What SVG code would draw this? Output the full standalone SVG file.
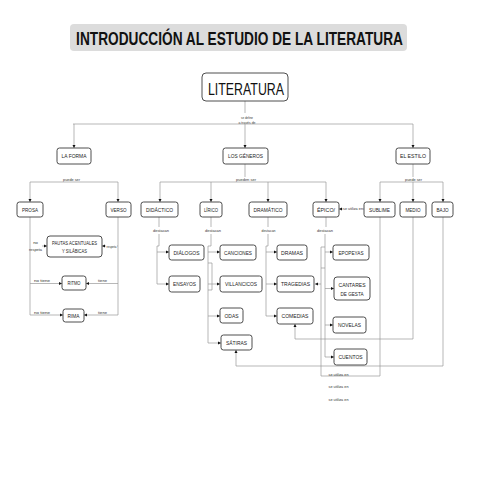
<svg xmlns="http://www.w3.org/2000/svg" width="480" height="480" viewBox="0 0 480 480">
<style>
  .bx{fill:#fff;stroke:#3a3a3a;stroke-width:0.9}
  .t{font-family:'Liberation Sans',Arial,sans-serif;font-size:6px;fill:#222;text-anchor:middle}
  .lp{font-family:'Liberation Sans',Arial,sans-serif;font-size:4.2px;fill:#333;text-anchor:middle}
  .ln{fill:none;stroke:#999;stroke-width:0.7}
</style>
<defs>
  <marker id="ar" viewBox="0 0 4 4" refX="4" refY="2" markerWidth="3.2" markerHeight="3.2" orient="auto" markerUnits="userSpaceOnUse">
    <path d="M0,0 L4,2 L0,4 z" fill="#111"/>
  </marker>
</defs>
<rect width="480" height="480" fill="#fff"/>

<g id="title">
  <rect x="70" y="24" width="337" height="27" rx="4" fill="#dcdcdc"/>
  <text transform="translate(239.5,45) scale(0.78,1)" x="0" y="0" font-family="'Liberation Sans',Arial,sans-serif" font-weight="bold" font-size="17.5" fill="#111" text-anchor="middle" textLength="419" lengthAdjust="spacingAndGlyphs">INTRODUCCIÓN AL ESTUDIO DE LA LITERATURA</text>
</g>

<g id="connectors">
  <!-- Literatura -->
  <path class="ln" d="M245 101 V113"/>
  <text class="lp" x="247" y="118.5" textLength="12" lengthAdjust="spacingAndGlyphs">se define</text>
  <text class="lp" x="247" y="123.5" textLength="17" lengthAdjust="spacingAndGlyphs">a través de</text>
  <path class="ln" d="M73 124 H413"/>
  <path class="ln" d="M74 124 V148" marker-end="url(#ar)"/>
  <path class="ln" d="M245 124 V148" marker-end="url(#ar)"/>
  <path class="ln" d="M413 124 V148" marker-end="url(#ar)"/>

  <!-- La forma -->
  <text class="lp" x="71.5" y="180.5" textLength="17" lengthAdjust="spacingAndGlyphs">puede ser</text>
  <path class="ln" d="M30 182 H118"/>
  <path class="ln" d="M30 182 V202" marker-end="url(#ar)"/>
  <path class="ln" d="M118 182 V202" marker-end="url(#ar)"/>

  <!-- Prosa / Verso -->
  <path class="ln" d="M30 217 V315 H63" marker-end="url(#ar)"/>
  <path class="ln" d="M42 246 H47" marker-end="url(#ar)"/>
  <text class="lp" x="35.5" y="244">no</text>
  <text class="lp" x="35.5" y="250.5" textLength="13" lengthAdjust="spacingAndGlyphs">respeta</text>
  <path class="ln" d="M30 283.5 H62" marker-end="url(#ar)"/>
  <text class="lp" x="42" y="282" textLength="16" lengthAdjust="spacingAndGlyphs">no tiene</text>
  <text class="lp" x="42" y="314" textLength="16" lengthAdjust="spacingAndGlyphs">no tiene</text>

  <path class="ln" d="M118 217 V315 H84" marker-end="url(#ar)"/>
  <path class="ln" d="M106 246 H102" marker-end="url(#ar)"/>
  <path class="ln" d="M117 246 H118"/>
  <text class="lp" x="111.5" y="247.5" textLength="10" lengthAdjust="spacingAndGlyphs">respeta</text>
  <path class="ln" d="M118 283.5 H86" marker-end="url(#ar)"/>
  <text class="lp" x="102.5" y="282" textLength="9" lengthAdjust="spacingAndGlyphs">tiene</text>
  <text class="lp" x="102.5" y="314" textLength="9" lengthAdjust="spacingAndGlyphs">tiene</text>

  <!-- Los géneros -->
  <path class="ln" d="M245 164 V177"/>
  <text class="lp" x="246" y="181" textLength="20" lengthAdjust="spacingAndGlyphs">pueden ser</text>
  <path class="ln" d="M160 182 H326"/>
  <path class="ln" d="M160 182 V202" marker-end="url(#ar)"/>
  <path class="ln" d="M211 182 V202" marker-end="url(#ar)"/>
  <path class="ln" d="M268 182 V202" marker-end="url(#ar)"/>
  <path class="ln" d="M326 182 V202" marker-end="url(#ar)"/>

  <!-- El estilo -->
  <path class="ln" d="M413 164 V177"/>
  <text class="lp" x="413.5" y="181" textLength="17" lengthAdjust="spacingAndGlyphs">puede ser</text>
  <path class="ln" d="M380 182 H443"/>
  <path class="ln" d="M380 182 V202" marker-end="url(#ar)"/>
  <path class="ln" d="M413 182 V202" marker-end="url(#ar)"/>
  <path class="ln" d="M443 182 V202" marker-end="url(#ar)"/>

  <!-- Didáctico -->
  <path class="ln" d="M159 217 V227"/>
  <text class="lp" x="161" y="232" textLength="16" lengthAdjust="spacingAndGlyphs">destacan</text>
  <path class="ln" d="M159 234 V246 H157 V284 H169" marker-end="url(#ar)"/>
  <path class="ln" d="M157 252 H169" marker-end="url(#ar)"/>

  <!-- Lírico -->
  <path class="ln" d="M211 217 V227"/>
  <text class="lp" x="213" y="232" textLength="16" lengthAdjust="spacingAndGlyphs">destacan</text>
  <path class="ln" d="M211 234 V246 H208 V343 H221" marker-end="url(#ar)"/>
  <path class="ln" d="M208 252 H220" marker-end="url(#ar)"/>
  <path class="ln" d="M208 284 H220" marker-end="url(#ar)"/>
  <path class="ln" d="M208 316 H220" marker-end="url(#ar)"/>
  <path class="ln" d="M208 263 H212 V290 H208"/>

  <!-- Dramático -->
  <path class="ln" d="M268 217 V227"/>
  <text class="lp" x="268.5" y="232" textLength="14" lengthAdjust="spacingAndGlyphs">destacan</text>
  <path class="ln" d="M268 234 V246 H266 V316 H277" marker-end="url(#ar)"/>
  <path class="ln" d="M266 252 H277" marker-end="url(#ar)"/>
  <path class="ln" d="M266 284 H277" marker-end="url(#ar)"/>

  <!-- Épico -->
  <path class="ln" d="M326 217 V227"/>
  <text class="lp" x="325" y="232" textLength="16" lengthAdjust="spacingAndGlyphs">destacan</text>
  <path class="ln" d="M325 234 V357 H334" marker-end="url(#ar)"/>
  <path class="ln" d="M325 252 H333" marker-end="url(#ar)"/>
  <path class="ln" d="M325 288.5 H334" marker-end="url(#ar)"/>
  <path class="ln" d="M325 325 H333" marker-end="url(#ar)"/>

  <!-- Sublime -->
  <path class="ln" d="M343 209 H339" marker-end="url(#ar)"/>
  <path class="ln" d="M363 209 H364"/>
  <text class="lp" x="353" y="210" textLength="20" lengthAdjust="spacingAndGlyphs">se utiliza en</text>
  <path class="ln" d="M380 217 V376 H321 V247 H325"/>
  <path class="ln" d="M321 268 H325"/>
  <path class="ln" d="M321 284 H315" marker-end="url(#ar)"/>
  <text class="lp" x="338.5" y="376" textLength="20" lengthAdjust="spacingAndGlyphs">se utiliza en</text>

  <!-- Medio -->
  <path class="ln" d="M413 217 V339 H295 V324" marker-end="url(#ar)"/>
  <text class="lp" x="338.5" y="388" textLength="20" lengthAdjust="spacingAndGlyphs">se utiliza en</text>

  <!-- Bajo -->
  <path class="ln" d="M443 217 V366 H236 V350" marker-end="url(#ar)"/>
  <text class="lp" x="338.5" y="401" textLength="20" lengthAdjust="spacingAndGlyphs">se utiliza en</text>
</g>

<g id="literatura">
  <rect class="bx" x="202" y="73" width="86" height="28" rx="4"/>
  <text x="246" y="95" font-family="'Liberation Sans',Arial,sans-serif" font-size="17" fill="#111" text-anchor="middle" textLength="76" lengthAdjust="spacingAndGlyphs">LITERATURA</text>
</g>

<g id="la-forma"><rect class="bx" x="57" y="148" width="34" height="16" rx="2.5"/><text class="t" x="74" y="158.3" textLength="25" lengthAdjust="spacingAndGlyphs">LA FORMA</text></g>
<g id="los-generos"><rect class="bx" x="223" y="148" width="45" height="16" rx="2.5"/><text class="t" x="245.5" y="158.3" textLength="35" lengthAdjust="spacingAndGlyphs">LOS GÉNEROS</text></g>
<g id="el-estilo"><rect class="bx" x="396" y="148" width="34" height="16" rx="2.5"/><text class="t" x="413" y="158.3" textLength="26" lengthAdjust="spacingAndGlyphs">EL ESTILO</text></g>

<g id="prosa"><rect class="bx" x="17" y="202" width="26" height="15" rx="2.5"/><text class="t" x="30" y="211.8" textLength="16" lengthAdjust="spacingAndGlyphs">PROSA</text></g>
<g id="verso"><rect class="bx" x="106" y="202" width="25" height="15" rx="2.5"/><text class="t" x="118.5" y="211.8" textLength="16" lengthAdjust="spacingAndGlyphs">VERSO</text></g>

<g id="pautas"><rect class="bx" x="47" y="236" width="55" height="21" rx="3"/><text class="t" x="74.5" y="245" font-size="5.2" textLength="45" lengthAdjust="spacingAndGlyphs">PAUTAS ACENTUALES</text><text class="t" x="74.5" y="252.5" font-size="5.4" textLength="25" lengthAdjust="spacingAndGlyphs">Y SILÁBICAS</text></g>
<g id="ritmo"><rect class="bx" x="62" y="276" width="24" height="14" rx="2.5"/><text class="t" x="74" y="285.3" textLength="13" lengthAdjust="spacingAndGlyphs">RITMO</text></g>
<g id="rima"><rect class="bx" x="63" y="309" width="21" height="13" rx="2.5"/><text class="t" x="73.5" y="317.7" textLength="12" lengthAdjust="spacingAndGlyphs">RIMA</text></g>

<g id="didactico"><rect class="bx" x="141" y="202" width="37" height="15" rx="2.5"/><text class="t" x="159.5" y="211.8" textLength="27" lengthAdjust="spacingAndGlyphs">DIDÁCTICO</text></g>
<g id="lirico"><rect class="bx" x="200" y="202" width="22" height="15" rx="2.5"/><text class="t" x="211" y="211.8" textLength="14" lengthAdjust="spacingAndGlyphs">LÍRICO</text></g>
<g id="dramatico"><rect class="bx" x="249" y="202" width="38" height="15" rx="2.5"/><text class="t" x="268" y="211.8" textLength="29" lengthAdjust="spacingAndGlyphs">DRAMÁTICO</text></g>
<g id="epico"><rect class="bx" x="313" y="202" width="26" height="15" rx="2.5"/><text class="t" x="326" y="211.8" textLength="18" lengthAdjust="spacingAndGlyphs">ÉPICO/</text></g>
<g id="sublime"><rect class="bx" x="364" y="202" width="31" height="15" rx="2.5"/><text class="t" x="379.5" y="211.8" textLength="21" lengthAdjust="spacingAndGlyphs">SUBLIME</text></g>
<g id="medio"><rect class="bx" x="400" y="202" width="26" height="15" rx="2.5"/><text class="t" x="413" y="211.8" textLength="15" lengthAdjust="spacingAndGlyphs">MEDIO</text></g>
<g id="bajo"><rect class="bx" x="432" y="202" width="21" height="15" rx="2.5"/><text class="t" x="442.5" y="211.8" textLength="12" lengthAdjust="spacingAndGlyphs">BAJO</text></g>

<g id="dialogos"><rect class="bx" x="169" y="245" width="35" height="15" rx="2.5"/><text class="t" x="186.5" y="254.8" textLength="26" lengthAdjust="spacingAndGlyphs">DIÁLOGOS</text></g>
<g id="ensayos"><rect class="bx" x="169" y="276" width="31" height="16" rx="2.5"/><text class="t" x="184.5" y="286.3" textLength="23" lengthAdjust="spacingAndGlyphs">ENSAYOS</text></g>

<g id="canciones"><rect class="bx" x="220" y="245" width="36" height="15" rx="2.5"/><text class="t" x="238" y="254.8" textLength="28" lengthAdjust="spacingAndGlyphs">CANCIONES</text></g>
<g id="villancicos"><rect class="bx" x="220" y="276" width="42" height="16" rx="2.5"/><text class="t" x="241" y="286.3" textLength="32" lengthAdjust="spacingAndGlyphs">VILLANCICOS</text></g>
<g id="odas"><rect class="bx" x="220" y="308" width="23" height="15" rx="2.5"/><text class="t" x="231.5" y="317.8" textLength="14" lengthAdjust="spacingAndGlyphs">ODAS</text></g>
<g id="satiras"><rect class="bx" x="221" y="335" width="31" height="15" rx="2.5"/><text class="t" x="236.5" y="344.8" textLength="21" lengthAdjust="spacingAndGlyphs">SÁTIRAS</text></g>

<g id="dramas"><rect class="bx" x="277" y="245" width="30" height="15" rx="2.5"/><text class="t" x="292" y="254.8" textLength="22" lengthAdjust="spacingAndGlyphs">DRAMAS</text></g>
<g id="tragedias"><rect class="bx" x="277" y="276" width="37" height="16" rx="2.5"/><text class="t" x="295.5" y="286.3" textLength="29" lengthAdjust="spacingAndGlyphs">TRAGEDIAS</text></g>
<g id="comedias"><rect class="bx" x="277" y="308" width="36" height="16" rx="2.5"/><text class="t" x="295" y="318.3" textLength="27" lengthAdjust="spacingAndGlyphs">COMEDIAS</text></g>

<g id="epopeyas"><rect class="bx" x="333" y="245" width="36" height="15" rx="2.5"/><text class="t" x="351" y="254.8" textLength="25" lengthAdjust="spacingAndGlyphs">EPOPEYAS</text></g>
<g id="cantares"><rect class="bx" x="334" y="277" width="36" height="23" rx="3"/><text class="t" x="352" y="287" textLength="27" lengthAdjust="spacingAndGlyphs">CANTARES</text><text class="t" x="352" y="295.5" textLength="23" lengthAdjust="spacingAndGlyphs">DE GESTA</text></g>
<g id="novelas"><rect class="bx" x="333" y="317" width="33" height="16" rx="2.5"/><text class="t" x="349.5" y="327.3" textLength="23" lengthAdjust="spacingAndGlyphs">NOVELAS</text></g>
<g id="cuentos"><rect class="bx" x="334" y="349" width="33" height="16" rx="2.5"/><text class="t" x="350.5" y="359.3" textLength="24" lengthAdjust="spacingAndGlyphs">CUENTOS</text></g>
</svg>
